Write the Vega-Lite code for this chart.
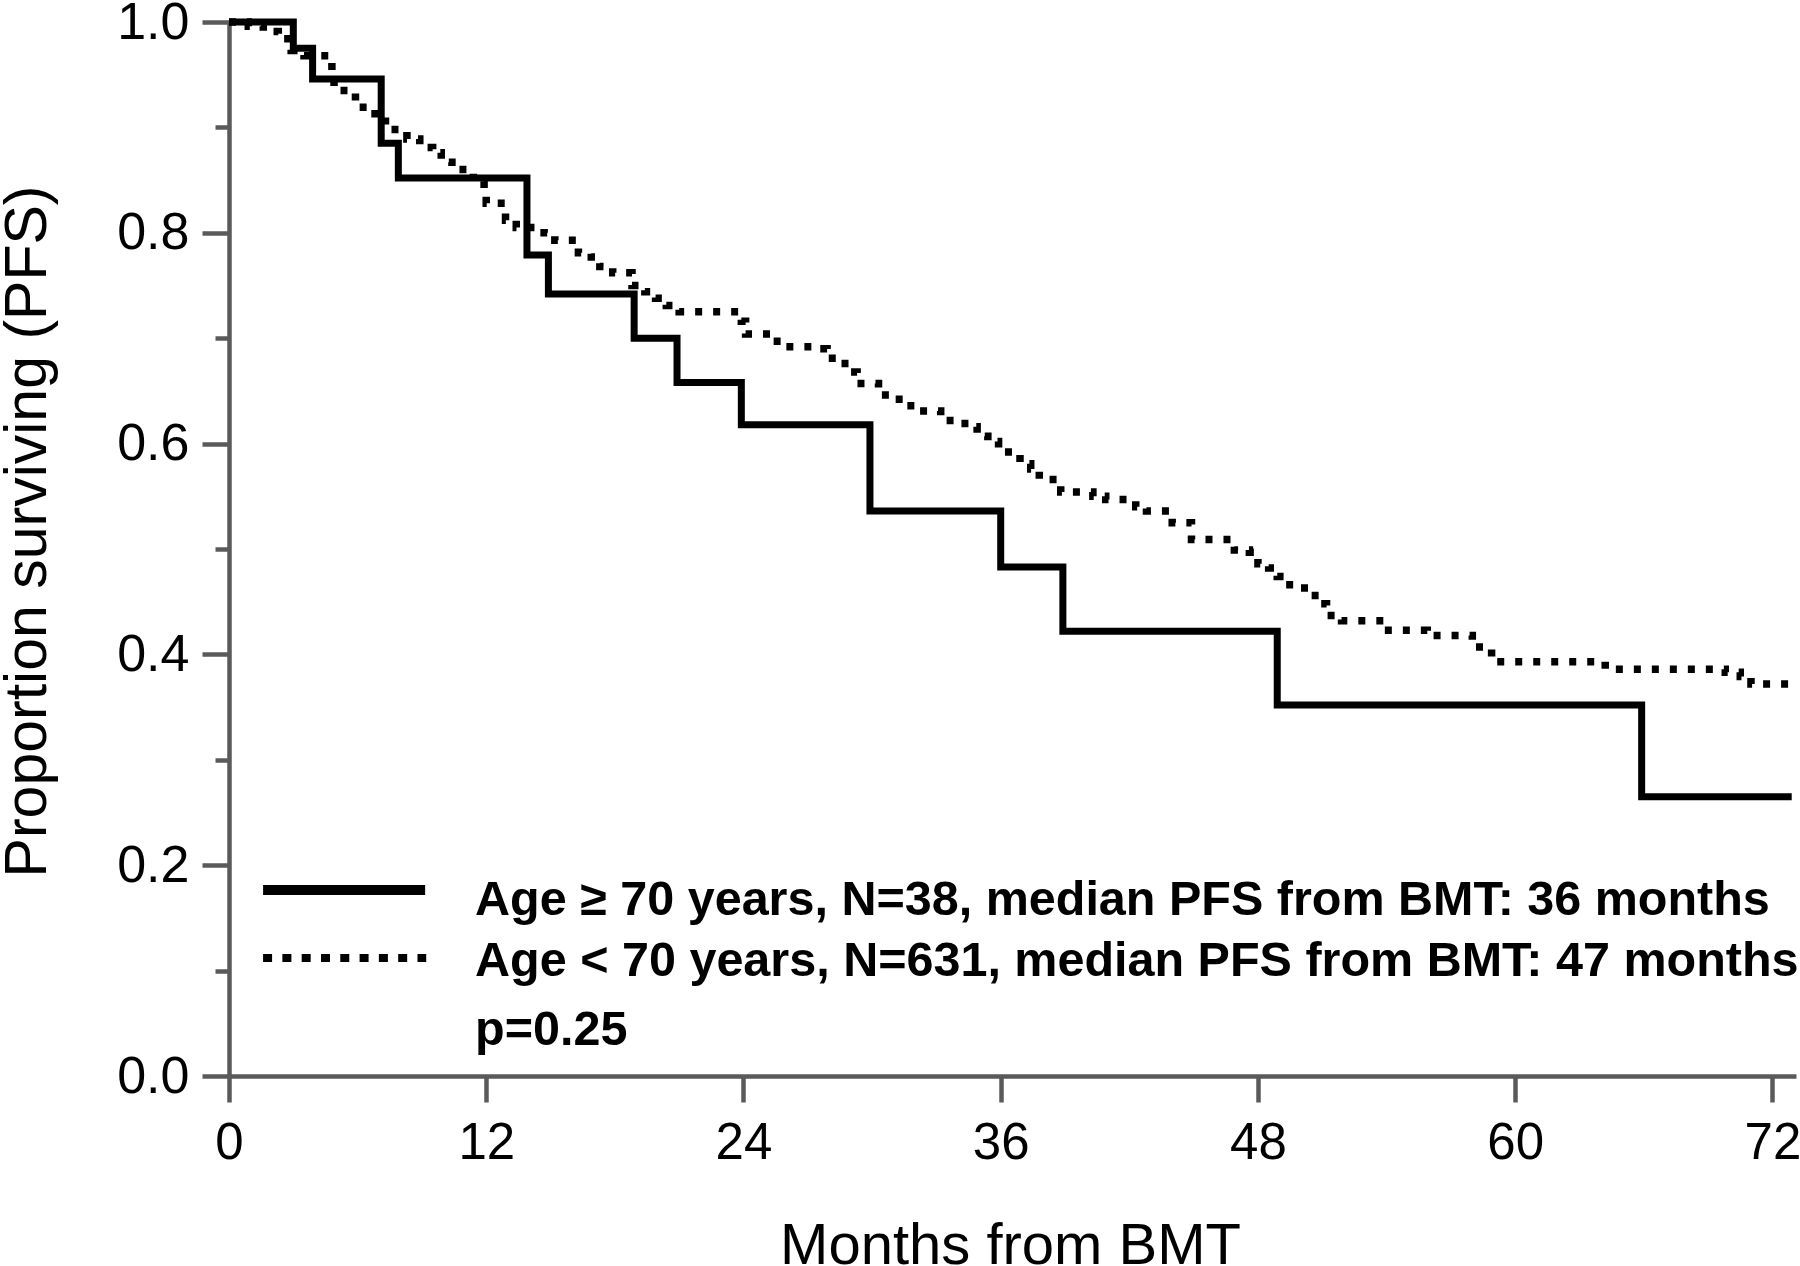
{
  "$schema": "https://vega.github.io/schema/vega-lite/v6.json",
  "width": 1567,
  "height": 1054,
  "autosize": {"type": "none"},
  "padding": {"left": 229, "top": 22, "right": 4, "bottom": 190},
  "background": "white",
  "config": {"view": {"stroke": null}, "font": "Liberation Sans"},
  "datasets": {
    "km": [
      {"group": "lt70", "month": 0, "surv": 1.0},
      {"group": "lt70", "month": 0.9, "surv": 0.996},
      {"group": "lt70", "month": 1.6, "surv": 0.991},
      {"group": "lt70", "month": 2.3, "surv": 0.984},
      {"group": "lt70", "month": 2.9, "surv": 0.973},
      {"group": "lt70", "month": 3.5, "surv": 0.968},
      {"group": "lt70", "month": 4.8, "surv": 0.951},
      {"group": "lt70", "month": 4.9, "surv": 0.935},
      {"group": "lt70", "month": 5.9, "surv": 0.919},
      {"group": "lt70", "month": 6.5, "surv": 0.913},
      {"group": "lt70", "month": 7.3, "surv": 0.898},
      {"group": "lt70", "month": 8.3, "surv": 0.889},
      {"group": "lt70", "month": 8.9, "surv": 0.881},
      {"group": "lt70", "month": 9.5, "surv": 0.876},
      {"group": "lt70", "month": 9.9, "surv": 0.867},
      {"group": "lt70", "month": 10.4, "surv": 0.86},
      {"group": "lt70", "month": 11.4, "surv": 0.849},
      {"group": "lt70", "month": 11.9, "surv": 0.842},
      {"group": "lt70", "month": 12.0, "surv": 0.828},
      {"group": "lt70", "month": 12.9, "surv": 0.812},
      {"group": "lt70", "month": 13.4, "surv": 0.805},
      {"group": "lt70", "month": 14.7, "surv": 0.8},
      {"group": "lt70", "month": 15.2, "surv": 0.793},
      {"group": "lt70", "month": 16.3, "surv": 0.781},
      {"group": "lt70", "month": 16.9, "surv": 0.777},
      {"group": "lt70", "month": 17.3, "surv": 0.768},
      {"group": "lt70", "month": 17.9, "surv": 0.762},
      {"group": "lt70", "month": 18.8, "surv": 0.75},
      {"group": "lt70", "month": 19.4, "surv": 0.744},
      {"group": "lt70", "month": 19.9, "surv": 0.738},
      {"group": "lt70", "month": 20.4, "surv": 0.731},
      {"group": "lt70", "month": 21.0, "surv": 0.725},
      {"group": "lt70", "month": 23.9, "surv": 0.716},
      {"group": "lt70", "month": 24.1, "surv": 0.704},
      {"group": "lt70", "month": 25.4, "surv": 0.697},
      {"group": "lt70", "month": 26.0, "surv": 0.692},
      {"group": "lt70", "month": 27.5, "surv": 0.69},
      {"group": "lt70", "month": 27.9, "surv": 0.681},
      {"group": "lt70", "month": 28.5, "surv": 0.676},
      {"group": "lt70", "month": 28.9, "surv": 0.668},
      {"group": "lt70", "month": 29.3, "surv": 0.657},
      {"group": "lt70", "month": 30.3, "surv": 0.646},
      {"group": "lt70", "month": 30.9, "surv": 0.642},
      {"group": "lt70", "month": 31.5, "surv": 0.636},
      {"group": "lt70", "month": 32.0, "surv": 0.631},
      {"group": "lt70", "month": 33.2, "surv": 0.622},
      {"group": "lt70", "month": 33.9, "surv": 0.619},
      {"group": "lt70", "month": 34.5, "surv": 0.616},
      {"group": "lt70", "month": 34.9, "surv": 0.607},
      {"group": "lt70", "month": 35.4, "surv": 0.602},
      {"group": "lt70", "month": 35.9, "surv": 0.592},
      {"group": "lt70", "month": 36.9, "surv": 0.581},
      {"group": "lt70", "month": 37.4, "surv": 0.576},
      {"group": "lt70", "month": 37.8, "surv": 0.566},
      {"group": "lt70", "month": 38.8, "surv": 0.554},
      {"group": "lt70", "month": 40.3, "surv": 0.55},
      {"group": "lt70", "month": 40.9, "surv": 0.547},
      {"group": "lt70", "month": 42.3, "surv": 0.54},
      {"group": "lt70", "month": 42.8, "surv": 0.536},
      {"group": "lt70", "month": 44.0, "surv": 0.525},
      {"group": "lt70", "month": 44.9, "surv": 0.509},
      {"group": "lt70", "month": 46.9, "surv": 0.499},
      {"group": "lt70", "month": 47.6, "surv": 0.497},
      {"group": "lt70", "month": 48.0, "surv": 0.486},
      {"group": "lt70", "month": 48.5, "surv": 0.482},
      {"group": "lt70", "month": 48.9, "surv": 0.474},
      {"group": "lt70", "month": 49.3, "surv": 0.466},
      {"group": "lt70", "month": 50.0, "surv": 0.463},
      {"group": "lt70", "month": 50.5, "surv": 0.456},
      {"group": "lt70", "month": 50.9, "surv": 0.448},
      {"group": "lt70", "month": 51.2, "surv": 0.437},
      {"group": "lt70", "month": 51.9, "surv": 0.432},
      {"group": "lt70", "month": 53.9, "surv": 0.423},
      {"group": "lt70", "month": 55.9, "surv": 0.418},
      {"group": "lt70", "month": 58.0, "surv": 0.407},
      {"group": "lt70", "month": 58.9, "surv": 0.393},
      {"group": "lt70", "month": 64.2, "surv": 0.386},
      {"group": "lt70", "month": 69.8, "surv": 0.383},
      {"group": "lt70", "month": 70.5, "surv": 0.379},
      {"group": "lt70", "month": 71.0, "surv": 0.372},
      {"group": "lt70", "month": 72.9, "surv": 0.372},
      {"group": "ge70", "month": 0, "surv": 1.0},
      {"group": "ge70", "month": 3.0, "surv": 0.975},
      {"group": "ge70", "month": 3.9, "surv": 0.946},
      {"group": "ge70", "month": 7.1, "surv": 0.885},
      {"group": "ge70", "month": 7.9, "surv": 0.852},
      {"group": "ge70", "month": 13.9, "surv": 0.779},
      {"group": "ge70", "month": 14.9, "surv": 0.742},
      {"group": "ge70", "month": 18.9, "surv": 0.7},
      {"group": "ge70", "month": 20.9, "surv": 0.658},
      {"group": "ge70", "month": 23.9, "surv": 0.618},
      {"group": "ge70", "month": 29.9, "surv": 0.536},
      {"group": "ge70", "month": 36.0, "surv": 0.483},
      {"group": "ge70", "month": 38.9, "surv": 0.422},
      {"group": "ge70", "month": 48.9, "surv": 0.352},
      {"group": "ge70", "month": 65.9, "surv": 0.265},
      {"group": "ge70", "month": 72.9, "surv": 0.265}
    ]
  },
  "encoding": {
    "x": {
      "type": "quantitative",
      "scale": {"domain": [0, 73.1], "nice": false, "zero": false},
      "axis": {
        "values": [0, 12, 24, 36, 48, 60, 72],
        "title": "Months from BMT",
        "grid": false,
        "domainColor": "#5a5a5a",
        "domainWidth": 4.5,
        "tickColor": "#5a5a5a",
        "tickWidth": 4.5,
        "tickSize": 26,
        "labelFont": "Liberation Sans",
        "labelFontSize": 51,
        "labelColor": "black",
        "labelPadding": 16,
        "labelFlush": false,
        "labelOverlap": false,
        "titleFont": "Liberation Sans",
        "titleFontSize": 58,
        "titleFontWeight": "normal",
        "titleColor": "black",
        "titleBaseline": "alphabetic",
        "titleAlign": "center",
        "titleX": 781,
        "titleY": 187
      }
    },
    "y": {
      "type": "quantitative",
      "scale": {"domain": [0, 1], "nice": false},
      "axis": {
        "values": [0, 0.1, 0.2, 0.3, 0.4, 0.5, 0.6, 0.7, 0.8, 0.9, 1.0],
        "labelExpr": "round(datum.value*10) % 2 === 0 ? format(datum.value, '.1f') : ''",
        "title": "Proportion surviving (PFS)",
        "grid": false,
        "domainColor": "#5a5a5a",
        "domainWidth": 4.5,
        "tickColor": "#5a5a5a",
        "tickWidth": 4.5,
        "tickSize": {"condition": {"test": "round(datum.value*10) % 2 === 1", "value": 14}, "value": 27},
        "labelFont": "Liberation Sans",
        "labelFontSize": 52,
        "labelColor": "black",
        "labelPadding": 13,
        "labelBaseline": "middle",
        "labelFlush": false,
        "labelOverlap": false,
        "titleFont": "Liberation Sans",
        "titleFontSize": 59,
        "titleFontWeight": "normal",
        "titleColor": "black",
        "titleAngle": 270,
        "titleAlign": "center",
        "titleBaseline": "top",
        "titleX": -231,
        "titleY": 509
      }
    }
  },
  "layer": [
    {
      "data": {"name": "km"},
      "transform": [{"filter": "datum.group === 'lt70'"}],
      "mark": {"type": "line", "interpolate": "step-after", "color": "black", "strokeWidth": 7.5, "strokeDash": [7, 11], "strokeCap": "butt", "strokeJoin": "miter"},
      "encoding": {"x": {"field": "month", "type": "quantitative"}, "y": {"field": "surv", "type": "quantitative"}}
    },
    {
      "data": {"name": "km"},
      "transform": [{"filter": "datum.group === 'ge70'"}],
      "mark": {"type": "line", "interpolate": "step-after", "color": "black", "strokeWidth": 7, "strokeCap": "butt", "strokeJoin": "miter"},
      "encoding": {"x": {"field": "month", "type": "quantitative"}, "y": {"field": "surv", "type": "quantitative"}}
    },
    {
      "data": {"values": [{}]},
      "mark": {"type": "rule", "color": "black", "strokeWidth": 10, "strokeCap": "butt"},
      "encoding": {"x": {"datum": 1.59, "type": "quantitative"}, "x2": {"datum": 9.15}, "y": {"datum": 0.1765, "type": "quantitative"}}
    },
    {
      "data": {"values": [{}]},
      "mark": {"type": "rule", "color": "black", "strokeWidth": 8, "strokeCap": "butt", "strokeDash": [9, 10.3]},
      "encoding": {"x": {"datum": 1.59, "type": "quantitative"}, "x2": {"datum": 9.2}, "y": {"datum": 0.112, "type": "quantitative"}}
    },
    {
      "data": {"values": [{}]},
      "mark": {"type": "text", "text": "Age ≥ 70 years, N=38, median PFS from BMT: 36 months", "align": "left", "baseline": "alphabetic", "font": "Liberation Sans", "fontWeight": "bold", "fontSize": 48.5, "color": "black"},
      "encoding": {"x": {"datum": 11.48, "type": "quantitative"}, "y": {"datum": 0.1528, "type": "quantitative"}}
    },
    {
      "data": {"values": [{}]},
      "mark": {"type": "text", "text": "Age < 70 years, N=631, median PFS from BMT: 47 months", "align": "left", "baseline": "alphabetic", "font": "Liberation Sans", "fontWeight": "bold", "fontSize": 48.5, "color": "black"},
      "encoding": {"x": {"datum": 11.48, "type": "quantitative"}, "y": {"datum": 0.0949, "type": "quantitative"}}
    },
    {
      "data": {"values": [{}]},
      "mark": {"type": "text", "text": "p=0.25", "align": "left", "baseline": "alphabetic", "font": "Liberation Sans", "fontWeight": "bold", "fontSize": 48.5, "color": "black"},
      "encoding": {"x": {"datum": 11.48, "type": "quantitative"}, "y": {"datum": 0.0294, "type": "quantitative"}}
    }
  ]
}
